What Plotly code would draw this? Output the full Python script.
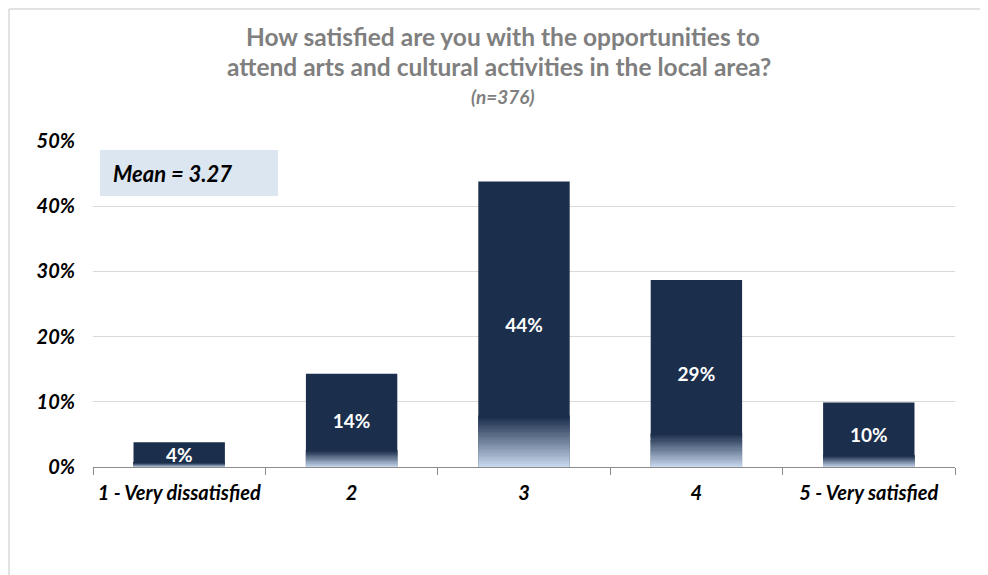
import plotly.graph_objects as go

# ---- data ----
categories = ["1 - Very dissatisfied", "2", "3", "4", "5 - Very satisfied"]
values = [0.038, 0.143, 0.438, 0.287, 0.099]
data_labels = ["4%", "14%", "44%", "29%", "10%"]
y_ticks = [0, 0.1, 0.2, 0.3, 0.4, 0.5]
y_tick_labels = ["0%", "10%", "20%", "30%", "40%", "50%"]
title_lines = ["How satisfied are you with the opportunities to",
               "attend arts and cultural activities in the local area?"]
subtitle = "(n=376)"
mean_text = "Mean = 3.27"

# ---- layout geometry (page pixels; page body has an 8px margin) ----
OFF = 8
W, H = 988 - OFF, 575 - OFF
L, R, T, B = 93 - OFF, 33, 141 - OFF, 108
PW, PH = W - L - R, H - T - B

def px(x):
    return (x - OFF - L) / PW

def py(y):
    return (H - B - (y - OFF)) / PH

NAVY = (27, 46, 75)
LIGHT = (200, 216, 238)
FONT = "Lato"

fig = go.Figure()

# main bars
fig.add_trace(go.Bar(
    x=categories, y=values, width=0.53,
    marker=dict(color="rgb(%d,%d,%d)" % NAVY, line=dict(width=0)),
    hoverinfo="skip", showlegend=False,
))

# gradient at the bottom of each bar (bottom 18% of bar height)
N = 30
frac = 0.18
for k in range(N):
    t = k / (N - 1)
    c = tuple(round(LIGHT[i] + (NAVY[i] - LIGHT[i]) * t) for i in range(3))
    fig.add_trace(go.Bar(
        x=categories,
        y=[v * frac / N for v in values],
        base=[v * frac * k / N for v in values],
        width=0.53,
        marker=dict(color="rgb(%d,%d,%d)" % c, line=dict(width=0)),
        hoverinfo="skip", showlegend=False,
    ))

# data labels
fig.add_trace(go.Bar(
    x=categories, y=values, width=0.53,
    marker=dict(color="rgba(0,0,0,0)", line=dict(width=0)),
    text=data_labels, textposition="inside", insidetextanchor="middle",
    textangle=0, constraintext="none", cliponaxis=False,
    textfont=dict(family=FONT, size=19, color="white", weight="bold"),
    showlegend=False,
))

TICKFONT = dict(family=FONT, size=20, color="black", weight="bold", style="italic")
BORDER = dict(color="#d9d9d9", width=1.5)

fig.update_layout(
    width=W, height=H,
    margin=dict(l=L, r=R, t=T, b=B, pad=0),
    paper_bgcolor="white", plot_bgcolor="white",
    barmode="overlay",
    font=dict(family=FONT, color="black"),
    xaxis=dict(
        type="category", showgrid=False,
        showline=True, linecolor="#8c8c8c", linewidth=1,
        ticks="outside", tickson="boundaries", ticklen=7, tickcolor="#8c8c8c",
        ticklabelstandoff=8,
        tickfont=TICKFONT,
        fixedrange=True,
    ),
    yaxis=dict(
        range=[0, 0.5], tickvals=y_ticks, ticktext=y_tick_labels,
        showgrid=True, gridcolor="#d9d9d9", gridwidth=1,
        zeroline=False, showline=False, ticks="",
        ticklabelstandoff=17,
        tickfont=TICKFONT,
        fixedrange=True,
    ),
    shapes=[
        # outer chart border: top and left edges
        dict(type="line", xref="paper", yref="paper",
             x0=px(9), x1=px(988), y0=py(9), y1=py(9), line=BORDER, layer="below"),
        dict(type="line", xref="paper", yref="paper",
             x0=px(9), x1=px(9), y0=py(9), y1=py(575), line=BORDER, layer="below"),
        # mean box
        dict(type="rect", xref="paper", yref="paper",
             x0=px(100), x1=px(278), y0=py(196), y1=py(150),
             line=dict(width=0), fillcolor="#dce6f1", layer="above"),
    ],
    annotations=[
        dict(text="<b>%s</b>" % title_lines[0], xref="paper", yref="paper",
             x=px(503), y=py(36), showarrow=False, xanchor="center", yanchor="middle",
             font=dict(family=FONT, size=24.5, color="#7f7f7f")),
        dict(text="<b>%s</b>" % title_lines[1], xref="paper", yref="paper",
             x=px(499), y=py(66), showarrow=False, xanchor="center", yanchor="middle",
             font=dict(family=FONT, size=24.5, color="#7f7f7f")),
        dict(text="<b><i>%s</i></b>" % subtitle, xref="paper", yref="paper",
             x=px(503), y=py(97), showarrow=False, xanchor="center", yanchor="middle",
             font=dict(family=FONT, size=19, color="#7f7f7f")),
        dict(text="<b><i>%s</i></b>" % mean_text, xref="paper", yref="paper",
             x=px(111), y=py(173), showarrow=False, xanchor="left", yanchor="middle",
             font=dict(family=FONT, size=22, color="black")),
    ],
)

fig.write_html("out.html", config={"displayModeBar": False})
